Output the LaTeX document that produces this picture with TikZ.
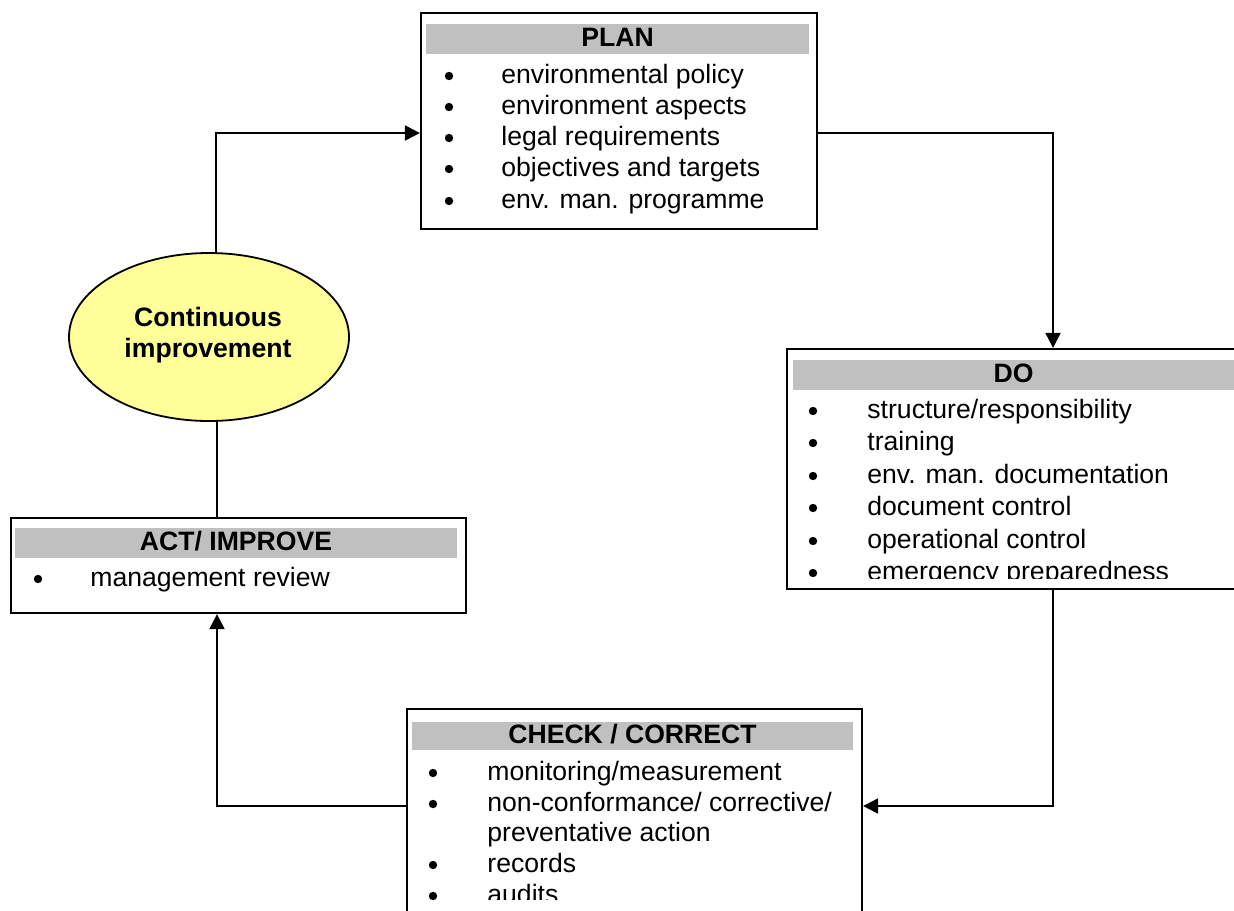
\documentclass[tikz,border=0pt]{standalone}
\usepackage{fontspec}
\setmainfont{Liberation Sans}
\usetikzlibrary{arrows.meta,shapes.geometric}
\definecolor{hdrgray}{HTML}{C0C0C0}
\definecolor{ellyellow}{HTML}{FFFF99}
\tikzset{
  txt/.style={font=\fontsize{13.3pt}{15.5pt}\selectfont},
  box/.style={draw, fill=white, line width=1.1pt, rectangle, inner sep=0pt},
  hdr/.style={txt, font=\fontsize{13.3pt}{15.5pt}\selectfont\bfseries, fill=hdrgray, draw=none, inner sep=0pt, text height=0.72em, text depth=0pt},
  itm/.style={txt, anchor=west, inner sep=0pt, text height=0.75em, text depth=0.25em},
  bul/.style={circle, fill=black, draw=none, inner sep=0pt, minimum size=4.2pt},
  ell/.style={ellipse, draw, fill=ellyellow, line width=0.9pt, inner sep=0pt},
  conn/.style={line width=1pt},
  arr/.style={conn, -{Triangle[length=7.5pt,width=7.5pt]}}
}
\begin{document}
\begin{tikzpicture}[x=0.5pt,y=-0.5pt]
\useasboundingbox (0,0) rectangle (1234,910);
\fill[white] (0,0) rectangle (1234,910);

% ---------- boxes ----------
\node[box, minimum width=198pt, minimum height=108pt] (plan) at (619,121) {};
\node[box, minimum width=226.5pt, minimum height=120pt] (do) at (1013.5,469) {};
\node[box, minimum width=227.5pt, minimum height=110.5pt] (check) at (634.5,819.5) {};
\node[box, minimum width=227.5pt, minimum height=47.5pt] (act) at (238.5,565.5) {};
\node[ell, minimum width=140pt, minimum height=84pt] (ci) at (209,337) {};
\node[txt, font=\fontsize{13.3pt}{15.5pt}\selectfont\bfseries, align=center, inner sep=0pt] (cit) at (208,335.5) {Continuous\\improvement};

% ---------- headers ----------
\node[hdr, minimum width=191.5pt, minimum height=15pt] (planh) at (617.5,39) {PLAN};
\node[hdr, minimum width=220.5pt, minimum height=15pt] (doh) at (1013.5,375) {DO};
\node[hdr, minimum width=220.5pt, minimum height=14pt] (checkh) at (632.5,736) {CHECK / CORRECT};
\node[hdr, minimum width=221pt, minimum height=15pt] (acth) at (236,543) {ACT/ IMPROVE};

% ---------- PLAN items ----------
\node[bul] (pb1) at (449,76) {};
\node[itm] (p1) at (501,78) {environmental policy};
\node[bul] (pb2) at (449,107) {};
\node[itm] (p2) at (501,109) {environment aspects};
\node[bul] (pb3) at (449,138) {};
\node[itm] (p3) at (501,140) {legal requirements};
\node[bul] (pb4) at (449,169) {};
\node[itm] (p4) at (501,171) {objectives and targets};
\node[bul] (pb5) at (449,201) {};
\node[itm] (p5) at (501,203) {env. man. programme};

% ---------- DO items ----------
\begin{scope}
\clip (787,349) rectangle (1234,578);
\node[bul] (db1) at (813,411) {};
\node[itm] (d1) at (867,413) {structure/responsibility};
\node[bul] (db2) at (813,443) {};
\node[itm] (d2) at (867,445) {training};
\node[bul] (db3) at (813,476) {};
\node[itm] (d3) at (867,478) {env. man. documentation};
\node[bul] (db4) at (813,508) {};
\node[itm] (d4) at (867,510) {document control};
\node[bul] (db5) at (813,541) {};
\node[itm] (d5) at (867,543) {operational control};
\node[bul] (db6) at (813,573) {};
\node[itm] (d6) at (867,575) {emergency preparedness};
\end{scope}

% ---------- CHECK items ----------
\begin{scope}
\clip (407,709) rectangle (862,899);
\node[bul] (cb1) at (433,773) {};
\node[itm] (c1) at (487,775) {monitoring/measurement};
\node[bul] (cb2) at (433,804) {};
\node[itm] (c2) at (487,806) {non-conformance/ corrective/};
\node[itm] (c2b) at (487,836) {preventative action};
\node[bul] (cb3) at (433,865) {};
\node[itm] (c3) at (487,867) {records};
\node[bul] (cb4) at (433,896) {};
\node[itm] (c4) at (487,898) {audits};
\end{scope}

% ---------- ACT items ----------
\node[bul] (ab1) at (38,579) {};
\node[itm] (a1) at (90,581) {management review};

% ---------- connectors ----------
\draw[arr] ([xshift=3.5pt]ci.north) |- ([yshift=-6pt]plan.west);
\draw[arr] ([yshift=-6pt]plan.east) -| ([xshift=19.75pt]do.north);
\draw[arr] ([xshift=19.75pt]do.south) |- ([yshift=6.75pt]check.east);
\draw[arr] ([yshift=6.75pt]check.west) -| ([xshift=-10.75pt]act.south);
\draw[conn] ([xshift=4pt]ci.south) -- ([xshift=-10.75pt]act.north);
\end{tikzpicture}
\end{document}
